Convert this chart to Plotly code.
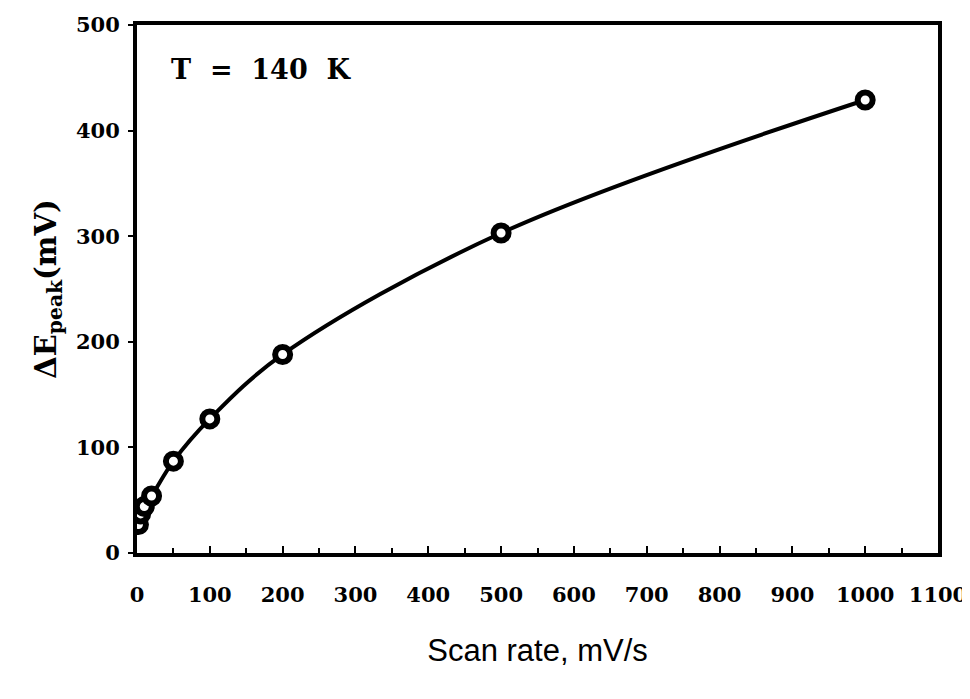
import plotly.graph_objects as go

scan_rate = [2, 5, 10, 20, 50, 100, 200, 500, 1000]
delta_e_peak = [27, 37, 44, 54, 87, 127, 188, 303, 429]

x_ticks = [0, 100, 200, 300, 400, 500, 600, 700, 800, 900, 1000, 1100]
y_ticks = [0, 100, 200, 300, 400, 500]

fig = go.Figure()
fig.add_trace(go.Scatter(
    x=scan_rate, y=delta_e_peak,
    mode="lines+markers",
    line=dict(color="black", width=4, shape="spline", smoothing=1.0),
    marker=dict(symbol="circle", size=15, color="white",
                line=dict(color="black", width=6)),
    showlegend=False,
))

tick_font = dict(family="DejaVu Serif", size=21, color="black", weight="bold")

fig.update_layout(
    width=970, height=699,
    margin=dict(l=129, r=40, t=17, b=154),
    paper_bgcolor="white", plot_bgcolor="white",
    xaxis=dict(
        range=[0, 1100], tickvals=x_ticks, ticktext=[str(v) for v in x_ticks],
        showgrid=False, zeroline=False, automargin=False,
        showline=True, linecolor="black", linewidth=4, mirror=True,
        ticks="inside", ticklen=7, tickwidth=2, tickcolor="black",
        minor=dict(ticks="inside", ticklen=5, tickwidth=2, tickcolor="black", dtick=50),
        tickfont=tick_font, ticklabelstandoff=20,
        title=dict(text="Scan rate, mV/s",
                   font=dict(family="Liberation Sans", size=31, color="black"),
                   standoff=34),
    ),
    yaxis=dict(
        range=[0, 500], tickvals=y_ticks, ticktext=[str(v) for v in y_ticks],
        showgrid=False, zeroline=False, automargin=False,
        showline=True, linecolor="black", linewidth=4, mirror=True,
        ticks="outside", ticklen=5, tickwidth=2, tickcolor="black",
        tickfont=tick_font, ticklabelstandoff=4,
        title=dict(text="ΔE<sub>peak</sub>(mV)",
                   font=dict(family="DejaVu Serif", size=29, color="black", weight="bold"),
                   standoff=12),
    ),
    annotations=[dict(
        text="T  =  140  K", xref="paper", yref="paper",
        x=0.04, y=0.915, xanchor="left", yanchor="middle", showarrow=False,
        font=dict(family="DejaVu Serif", size=27, color="black", weight="bold"),
    )],
)

fig.write_html("out.html")
